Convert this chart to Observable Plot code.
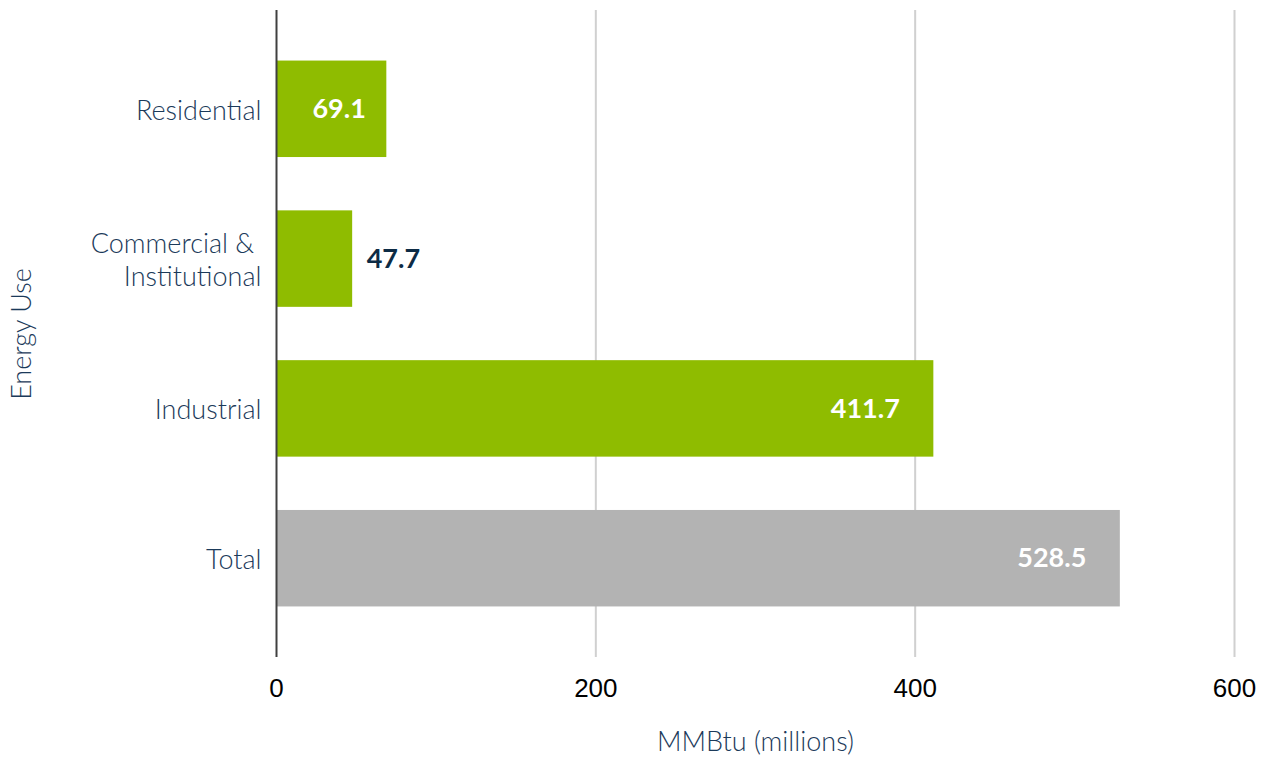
<!DOCTYPE html>
<html>
<head>
<meta charset="utf-8">
<script src="https://cdn.jsdelivr.net/npm/d3@7"></script>
<script src="https://cdn.jsdelivr.net/npm/@observablehq/plot@0.6"></script>
<style>
  html, body { margin: 0; padding: 0; background: #ffffff; }
  #chart svg { display: block; }
</style>
</head>
<body>
<div id="chart"></div>
<script>
const categories = ["Residential", "Commercial & Institutional", "Industrial", "Total"];
const values = [69.1, 47.7, 411.7, 528.5];
const labels = ["69.1", "47.7", "411.7", "528.5"];
const labelInside = [true, false, true, true];
const xTicks = [0, 200, 400, 600];
const xTitle = "MMBtu (millions)";
const yTitle = "Energy Use";

const GREEN = "#8fbc00";
const GRAY = "#b3b3b3";
const NAVY = "#1b3a5a";

const data = categories.map((c, i) => ({
  category: c,
  value: values[i],
  label: labels[i],
  inside: labelInside[i],
  fill: c === "Total" ? GRAY : GREEN
}));

const catFont = "Lato, 'Open Sans', sans-serif";

const chart = Plot.plot({
  width: 1265,
  height: 757,
  marginLeft: 276,
  marginRight: 31,
  marginTop: 10,
  marginBottom: 100,
  style: { background: "#ffffff", overflow: "visible" },
  x: { domain: [0, 600], ticks: xTicks, label: null },
  y: { domain: categories, paddingInner: 0.356, paddingOuter: 0.3375, round: false, label: null },
  marks: [
    Plot.gridX(xTicks.filter(t => t !== 0), { stroke: "#d0d0d0", strokeOpacity: 1, strokeWidth: 2 }),
    Plot.barX(data, { x: "value", y: "category", fill: "fill" }),
    Plot.ruleX([0], { stroke: "#404040", strokeWidth: 2 }),
    Plot.axisX({
      ticks: xTicks,
      tickSize: 0,
      tickPadding: 21,
      fontSize: 26,
      fontFamily: "'Liberation Sans', Arial, sans-serif",
      fill: "#000000",
      label: xTitle,
      labelAnchor: "center",
      labelArrow: "none",
      labelOffset: 93
    }),
    Plot.axisY({
      tickSize: 0,
      tickPadding: 15,
      fontSize: 27,
      fontFamily: catFont,
      fontWeight: 300,
      fill: NAVY,
      lineHeight: 1.2,
      tickFormat: d => d === "Commercial & Institutional" ? "Commercial & \nInstitutional" : d,
      label: yTitle,
      labelAnchor: "center",
      labelArrow: "none",
      labelOffset: 265
    }),
    Plot.text(data.filter(d => d.inside && d.category === "Residential"), {
      x: "value", y: "category", text: "label",
      textAnchor: "end", dx: -21,
      fill: "#ffffff", fontSize: 27, fontWeight: 700, fontFamily: catFont
    }),
    Plot.text(data.filter(d => d.inside && d.category !== "Residential"), {
      x: "value", y: "category", text: "label",
      textAnchor: "end", dx: -34,
      fill: "#ffffff", fontSize: 27, fontWeight: 700, fontFamily: catFont
    }),
    Plot.text(data.filter(d => !d.inside), {
      x: "value", y: "category", text: "label",
      textAnchor: "start", dx: 14,
      fill: "#0d2b45", fontSize: 27, fontWeight: 700, fontFamily: catFont
    })
  ]
});

// style axis titles
d3.select(chart).selectAll("[aria-label='x-axis label'] text, [aria-label='y-axis label'] text")
  .attr("fill", NAVY)
  .style("font-family", catFont)
  .style("font-weight", 300)
  .style("font-size", "27px");

document.getElementById("chart").appendChild(chart);
</script>
</body>
</html>
